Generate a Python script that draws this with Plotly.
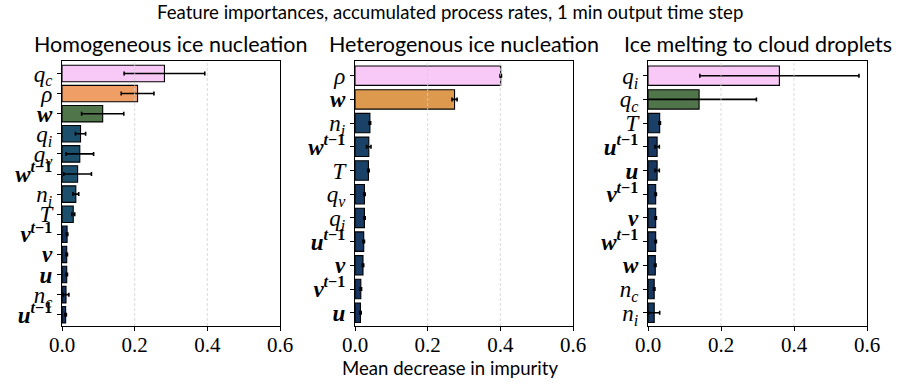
import plotly.graph_objects as go

# Feature labels (HTML math-style) used on the y axes
LABELS = {
    "q_c": "<i>q<sub>c</sub></i>",
    "q_i": "<i>q<sub>i</sub></i>",
    "q_v": "<i>q<sub>v</sub></i>",
    "n_i": "<i>n<sub>i</sub></i>",
    "n_c": "<i>n<sub>c</sub></i>",
    "rho": "<i>ρ</i>",
    "T": "<i>T</i>",
    "u": "<b><i>u</i></b>",
    "v": "<b><i>v</i></b>",
    "w": "<b><i>w</i></b>",
    "u_tm1": "<b><i>u</i><sup><i>t</i>−1</sup></b>",
    "v_tm1": "<b><i>v</i><sup><i>t</i>−1</sup></b>",
    "w_tm1": "<b><i>w</i><sup><i>t</i>−1</sup></b>",
}

# Homogeneous ice nucleation
hom_features = ["q_c", "rho", "w", "q_i", "q_v", "w_tm1", "n_i", "T",
                "v_tm1", "v", "u", "n_c", "u_tm1"]
hom_mean = [0.282, 0.208, 0.112, 0.051, 0.049, 0.043, 0.038, 0.031,
            0.014, 0.013, 0.013, 0.011, 0.010]
hom_std = [0.111, 0.045, 0.058, 0.014, 0.038, 0.038, 0.008, 0.004,
           0.002, 0.002, 0.002, 0.008, 0.002]

# Heterogenous ice nucleation
het_features = ["rho", "w", "n_i", "w_tm1", "T", "q_v", "q_i", "u_tm1",
                "v", "v_tm1", "u"]
het_mean = [0.401, 0.274, 0.041, 0.038, 0.037, 0.026, 0.026, 0.024,
            0.022, 0.016, 0.015]
het_std = [0.002, 0.007, 0.002, 0.006, 0.002, 0.002, 0.002, 0.002,
           0.002, 0.002, 0.002]

# Ice melting to cloud droplets
mel_features = ["q_i", "q_c", "T", "u_tm1", "u", "v_tm1", "v", "w_tm1",
                "w", "n_c", "n_i"]
mel_mean = [0.360, 0.140, 0.032, 0.025, 0.025, 0.021, 0.021, 0.021,
            0.020, 0.017, 0.017]
mel_std = [0.218, 0.157, 0.002, 0.006, 0.006, 0.002, 0.002, 0.002,
           0.002, 0.002, 0.015]

panel_titles = ["Homogeneous ice nucleation", "Heterogenous ice nucleation",
                "Ice melting to cloud droplets"]
x_ticks = [0.0, 0.2, 0.4, 0.6]

# Bar colours (batlow-like ramp by importance)
PINK, ORANGE1, ORANGE2, GREEN = "#F8C9F6", "#EF9F66", "#DD9A4F", "#51754A"
TEAL, NAVY = "#1C4F6B", "#16325E"
hom_colors = [PINK, ORANGE1, GREEN] + [TEAL] * 5 + [NAVY] * 5
het_colors = [PINK, ORANGE2] + ["#1A4266"] * 3 + ["#183A62"] * 4 + ["#173460"] * 2
mel_colors = [PINK, GREEN, "#1A4068"] + ["#183862"] * 8

panels = [
    (hom_features, hom_mean, hom_std, hom_colors),
    (het_features, het_mean, het_std, het_colors),
    (mel_features, mel_mean, mel_std, mel_colors),
]

W, H = 899, 385
x_px = [(62, 280), (355, 573), (648, 867)]
x_domains = [(a / W, b / W) for a, b in x_px]
y_domain = (1 - 326 / H, 1 - 61 / H)

SERIF = "Liberation Serif"
SANS = "Lato"

fig = go.Figure()
shapes = []
for i, (feats, mean, std, cols) in enumerate(panels):
    n = i + 1
    xa = "x" if n == 1 else f"x{n}"
    ya = "y" if n == 1 else f"y{n}"
    labels = [LABELS[f] for f in feats]
    fig.add_trace(go.Bar(
        x=mean, y=labels, orientation="h",
        marker=dict(color=cols, line=dict(color="black", width=1.1)),
        width=0.82,
        error_x=dict(type="data", array=std, visible=True, color="black",
                     thickness=1.6, width=2),
        xaxis=xa, yaxis=ya, showlegend=False,
    ))
    nb = len(feats)
    fig.layout[f"xaxis{'' if n == 1 else n}"] = dict(
        domain=x_domains[i], anchor=ya, range=[0, 0.6], automargin=False,
        tickmode="array", tickvals=x_ticks,
        ticktext=[f"{t:.1f}" for t in x_ticks],
        ticks="outside", ticklen=4, tickcolor="black", ticklabelstandoff=-4,
        showgrid=False, zeroline=False,
        showline=True, linecolor="black", linewidth=1.2, mirror=True,
        tickfont=dict(family=SERIF, size=21, color="black"),
    )
    fig.layout[f"yaxis{'' if n == 1 else n}"] = dict(
        domain=y_domain, anchor=xa, type="category", automargin=False,
        tickmode="array", tickvals=labels, ticktext=labels,
        range=[nb - 1 + 0.56, -0.62],
        ticks="outside", ticklen=4, tickcolor="black",
        showgrid=False, zeroline=False,
        showline=True, linecolor="black", linewidth=1.2, mirror=True,
        tickfont=dict(family=SERIF, size=23, color="black"),
    )
    # dashed vertical grid drawn over the bars
    for t in x_ticks[1:-1]:
        shapes.append(dict(type="line", xref=xa, yref=f"{ya} domain",
                           x0=t, x1=t, y0=0, y1=1, layer="above",
                           line=dict(color="#d2d2d2", width=0.8,
                                     dash="3px,2px")))

annotations = [
    dict(text="Feature importances, accumulated process rates, 1 min output time step",
         x=0.5, y=1 - 12 / H, xref="paper", yref="paper", showarrow=False,
         xanchor="center", yanchor="middle",
         font=dict(family=SANS, size=18.6, color="black")),
    dict(text="Mean decrease in impurity", x=0.5, y=1 - 368 / H,
         xref="paper", yref="paper", showarrow=False,
         xanchor="center", yanchor="middle",
         font=dict(family=SANS, size=18.6, color="black")),
]
for (a, b), t in zip(x_px, panel_titles):
    annotations.append(dict(text=t, x=(a + b) / 2 / W, y=1 - 44 / H,
                            xref="paper", yref="paper", showarrow=False,
                            xanchor="center", yanchor="middle",
                            font=dict(family=SANS, size=21.5, color="black")))

fig.update_layout(
    width=W, height=H, margin=dict(l=0, r=0, t=0, b=0, autoexpand=False),
    paper_bgcolor="white", plot_bgcolor="white",
    shapes=shapes, annotations=annotations,
)

fig.write_html("out.html")
